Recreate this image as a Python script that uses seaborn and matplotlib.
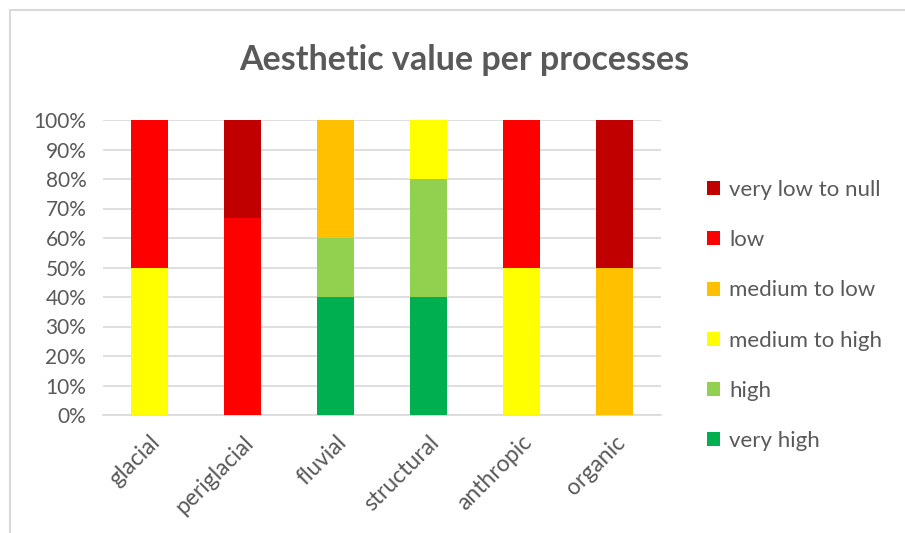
import matplotlib
matplotlib.use("Agg")
import matplotlib.pyplot as plt
from matplotlib.patches import Patch, Rectangle
from matplotlib.ticker import PercentFormatter
import numpy as np
import seaborn as sns

categories = ["glacial", "periglacial", "fluvial", "structural", "anthropic", "organic"]
levels = ["very high", "high", "medium to high", "medium to low", "low", "very low to null"]

very_high = [0, 0, 40, 40, 0, 0]
high = [0, 0, 20, 40, 0, 0]
medium_to_high = [50, 0, 0, 20, 50, 0]
medium_to_low = [0, 0, 40, 0, 0, 50]
low = [50, 66.7, 0, 0, 50, 0]
very_low_to_null = [0, 33.3, 0, 0, 0, 50]

series = [very_high, high, medium_to_high, medium_to_low, low, very_low_to_null]
colors = ["#00B050", "#92D050", "#FFFF00", "#FFC000", "#FF0000", "#C00000"]

sns.set_theme(style="white")
plt.rcParams["font.family"] = ["Lato", "DejaVu Sans"]
text_color = "#595959"

fig = plt.figure(figsize=(9.05, 5.33), dpi=100)
ax = fig.add_axes([103 / 905, 1 - 415 / 533, (661 - 103) / 905, (415 - 120) / 533])

bottom = np.zeros(len(categories))
for vals, col in zip(series, colors):
    sns.barplot(x=categories, y=vals, bottom=bottom, color=col, width=0.4,
                saturation=1, ax=ax, zorder=3, linewidth=0)
    bottom = bottom + np.array(vals)

ax.set_ylim(0, 100)
ax.set_xlim(-0.5, len(categories) - 0.5)
ax.set_yticks(np.arange(0, 101, 10))
ax.yaxis.set_major_formatter(PercentFormatter(decimals=0))
ax.grid(axis="y", color="#D9D9D9", linewidth=1.2, zorder=0)
for s in ["top", "right", "left"]:
    ax.spines[s].set_visible(False)
ax.spines["bottom"].set_color("#D9D9D9")
ax.spines["bottom"].set_linewidth(1.2)
ax.tick_params(axis="y", labelsize=15, colors=text_color, length=0, pad=12)
ax.tick_params(axis="x", labelsize=16.5, colors=text_color, length=0, pad=12)
for lbl in ax.get_xticklabels():
    lbl.set_rotation(45)
    lbl.set_ha("right")
    lbl.set_rotation_mode("anchor")
ax.set_xlabel("")
ax.set_ylabel("")

fig.text(464 / 905, 1 - 60 / 533, "Aesthetic value per processes", ha="center", va="center",
         fontsize=24.5, fontweight="bold", color=text_color)

handles = [Patch(facecolor=c, edgecolor="none", label=l) for c, l in zip(colors, levels)][::-1]
fig.legend(handles=handles, loc="upper left", bbox_to_anchor=(687 / 905, 1 - 160 / 533),
           frameon=False, fontsize=16, labelcolor=text_color, handlelength=0.6,
           handleheight=0.6, handletextpad=0.4, labelspacing=1.36)

fig.patches.append(Rectangle((10 / 905, -0.1), 1.1, 1 - 10 / 533 + 0.1, transform=fig.transFigure,
                             fill=False, edgecolor="#D9D9D9", linewidth=1.5, zorder=0))

fig.savefig("out.png", dpi=100)
